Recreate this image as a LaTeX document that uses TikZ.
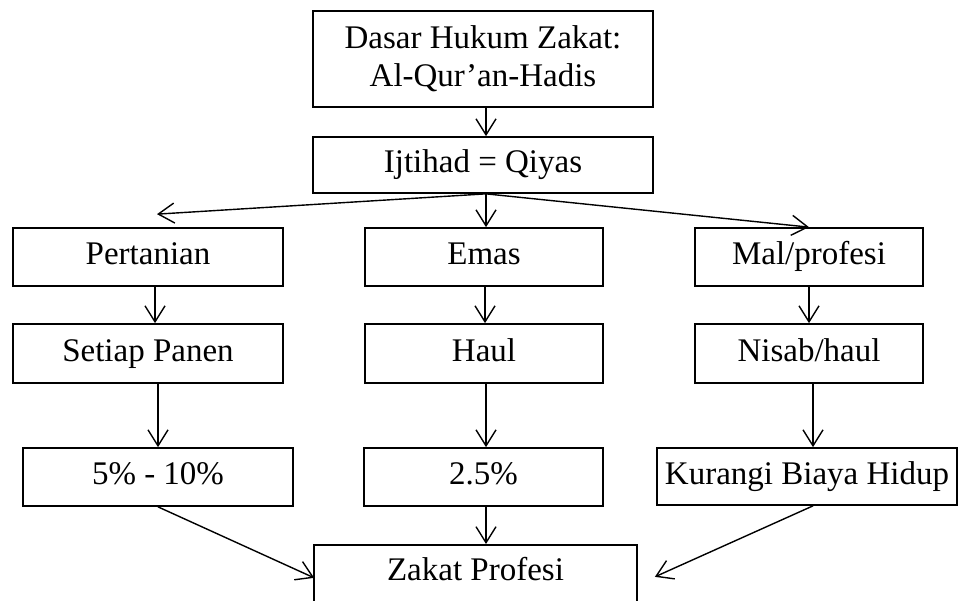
\documentclass[tikz,border=0pt]{standalone}
\usepackage{fontspec}
\setmainfont{Liberation Serif}
\usetikzlibrary{arrows.meta}
\begin{document}
\begin{tikzpicture}[x=1pt,y=-1pt,
  box/.style={draw, line width=1.7pt, inner sep=0pt, text height=22pt, text depth=7pt,
    font=\fontsize{33}{38}\selectfont},
  arr/.style={line width=1.4pt, -{Straight Barb[length=16pt,width=20pt,line width=1.4pt]}}]
\useasboundingbox (0,0) rectangle (958,601);
\node[box, minimum width=340pt, minimum height=96pt, align=center, text height=, text depth=] (top) at (483,59) {Dasar Hukum Zakat:\\Al-Qur’an-Hadis};
\node[box, minimum width=340pt, minimum height=56pt] (ijt) at (483,165) {Ijtihad = Qiyas};
\node[box, minimum width=270pt, minimum height=58pt] (per) at (148,257) {Pertanian};
\node[box, minimum width=238pt, minimum height=58pt] (emas) at (484,257) {Emas};
\node[box, minimum width=228pt, minimum height=58pt] (mal) at (809,257) {Mal/profesi};
\node[box, minimum width=270pt, minimum height=59pt] (set) at (148,353.5) {Setiap Panen};
\node[box, minimum width=238pt, minimum height=59pt] (haul) at (484,353.5) {Haul};
\node[box, minimum width=228pt, minimum height=59pt] (nis) at (809,353.5) {Nisab/haul};
\node[box, minimum width=270pt, minimum height=58pt] (p5) at (158,477) {5\% - 10\%};
\node[box, minimum width=239pt, minimum height=58pt] (p25) at (483.5,477) {2.5\%};
\node[box, minimum width=300pt, minimum height=57pt] (kur) at (807,476.5) {Kurangi Biaya Hidup};
\node[box, minimum width=323pt, anchor=north, text height=36pt, text depth=40pt] (zak) at (475.5,544) {Zakat Profesi};
\draw[arr] ([xshift=3pt]top.south) -- ([xshift=3pt]ijt.north);
\draw[arr] ([xshift=3pt]ijt.south) -- ([xshift=9pt,yshift=13pt]per.north);
\draw[arr] ([xshift=3pt]ijt.south) -- ([xshift=2pt]emas.north);
\draw[arr] ([xshift=3pt]ijt.south) -- (mal.north);
\draw[arr] ([xshift=7pt]per.south) -- ([xshift=7pt]set.north);
\draw[arr] ([xshift=1pt]emas.south) -- ([xshift=1pt]haul.north);
\draw[arr] (mal.south) -- (nis.north);
\draw[arr] ([xshift=10pt]set.south) -- (p5.north);
\draw[arr] ([xshift=2pt]haul.south) -- ([xshift=2.5pt]p25.north);
\draw[arr] ([xshift=4pt]nis.south) -- ([xshift=6pt]kur.north);
\draw[arr] (p5.south) -- ([xshift=1pt,yshift=5pt]zak.west);
\draw[arr] ([xshift=2.5pt]p25.south) -- ([xshift=10.5pt]zak.north);
\draw[arr] ([xshift=6pt]kur.south) -- ([xshift=17pt,yshift=6pt]zak.east);
\end{tikzpicture}
\end{document}
